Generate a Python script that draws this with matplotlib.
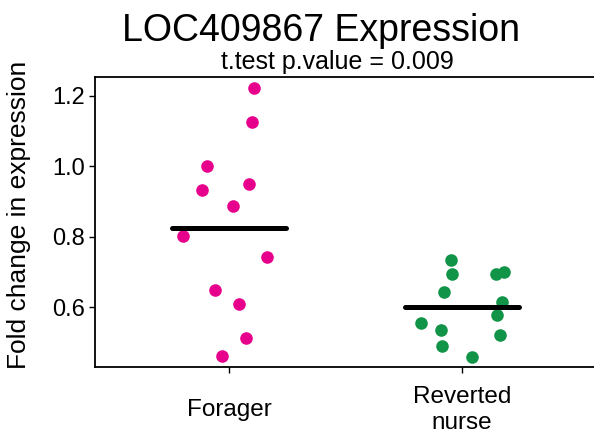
import matplotlib
matplotlib.use("Agg")
import matplotlib.pyplot as plt
import numpy as np

plt.rcParams['font.family'] = ['Liberation Sans', 'DejaVu Sans']

groups = ["Forager", "Reverted\nnurse"]
group_colors = ["#E7008B", "#119448"]

# fold change values, with the horizontal jitter of each point
forager = [1.220, 1.124, 0.999, 0.931, 0.948, 0.886, 0.801, 0.742, 0.648, 0.609, 0.512, 0.462]
forager_jit = [0.106, 0.100, -0.094, -0.117, 0.087, 0.018, -0.196, 0.162, -0.060, 0.042, 0.072, -0.030]
nurse = [0.733, 0.694, 0.693, 0.699, 0.643, 0.616, 0.579, 0.555, 0.536, 0.521, 0.490, 0.459]
nurse_jit = [-0.047, -0.044, 0.145, 0.180, -0.079, 0.170, 0.152, -0.176, -0.090, 0.162, -0.087, 0.042]

values = [forager, nurse]
jitter = [forager_jit, nurse_jit]

fig = plt.figure(figsize=(5.94, 4.37), dpi=100)
ax = fig.add_axes([95/594, 70/437, (601.8-95)/594, 290/437])

for i, (vals, jit) in enumerate(zip(values, jitter)):
    pos = i + 1
    ax.scatter(pos + np.array(jit), vals, s=82, color=group_colors[i],
               linewidths=0, zorder=2)
    m = np.mean(vals)
    ax.plot([pos - 0.245, pos + 0.245], [m, m], color="black", lw=3.6,
            solid_capstyle="round", zorder=3)

ax.set_xlim(0.425, 2.6)
ax.set_ylim(0.431, 1.2524)
ax.set_yticks([0.6, 0.8, 1.0, 1.2])
ax.set_yticklabels(["0.6", "0.8", "1.0", "1.2"])
ax.set_xticks([1, 2])
ax.set_xticklabels(groups, va="center", linespacing=1.2)

for sp in ax.spines.values():
    sp.set_linewidth(1.3)
ax.spines["right"].set_visible(False)
ax.tick_params(axis="y", labelsize=17, length=4, width=1, pad=3)
ax.tick_params(axis="x", labelsize=17.5, length=4, width=1, pad=27)

fig.text(7/594, 1 - 214.5/437, "Fold change in expression", rotation=90,
         fontsize=19, ha="left", va="center")
fig.text(320.5/594, 1 - 41/437, "LOC409867 Expression", fontsize=27,
         ha="center", va="baseline")
fig.text(337.5/594, 1 - 69/437, "t.test p.value = 0.009", fontsize=18,
         ha="center", va="baseline")

fig.savefig("out.png", dpi=100)
